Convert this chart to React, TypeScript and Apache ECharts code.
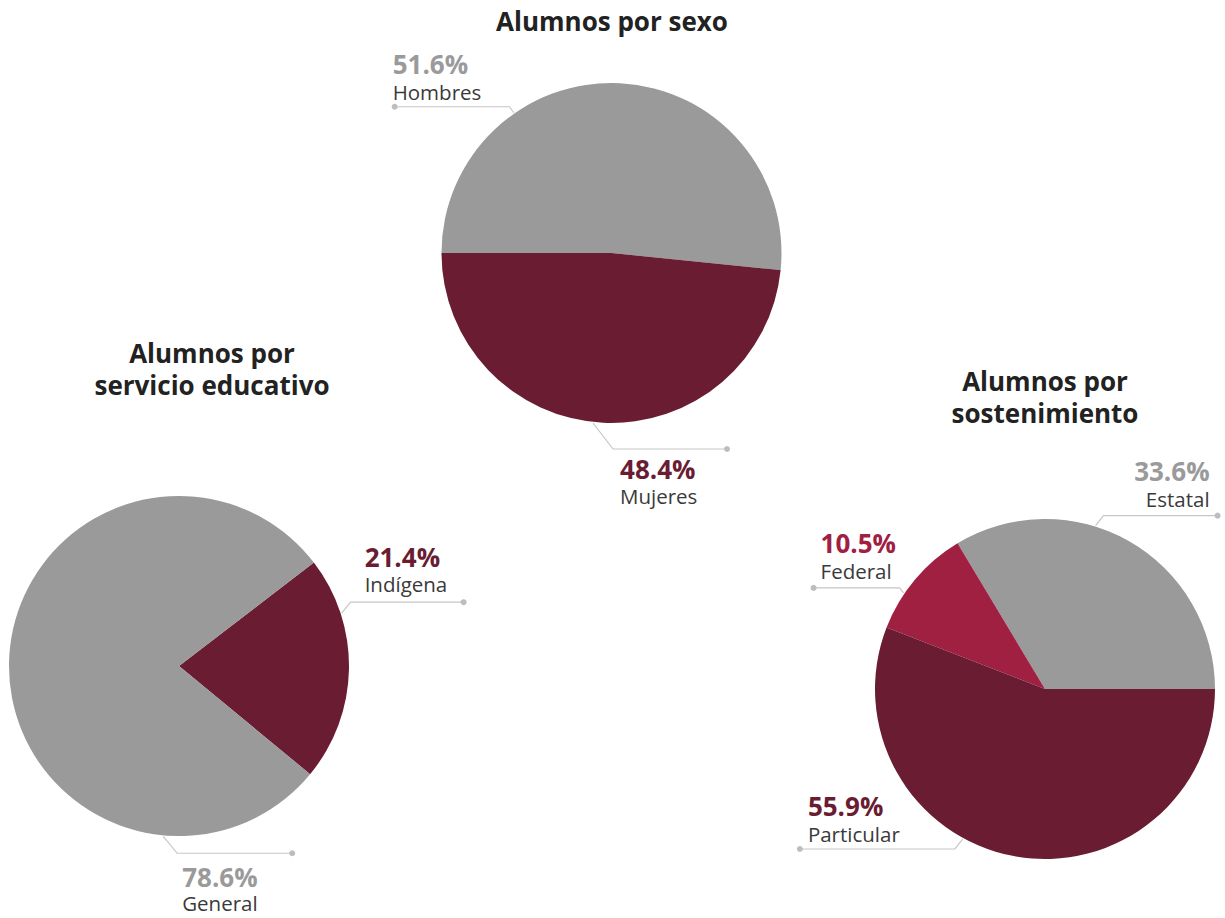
import React, { useEffect, useRef } from "react";
import * as echarts from "echarts";

// ---- Data ----
const sexoCategorias = ["Hombres", "Mujeres"];
const sexoValores = [51.6, 48.4];

const servicioCategorias = ["Indígena", "General"];
const servicioValores = [21.4, 78.6];

const sostenCategorias = ["Estatal", "Federal", "Particular"];
const sostenValores = [33.6, 10.5, 55.9];

const titulos = ["Alumnos por sexo", "Alumnos por\nservicio educativo", "Alumnos por\nsostenimiento"];

// ---- Styles / layout ----
const GRAY = "#9a9a9b";
const MAROON = "#691c32";
const RED = "#a02042";
const FONT = "'Open Sans', 'Noto Sans', sans-serif";
const R = 170;

const pies = [
  { cats: sexoCategorias, vals: sexoValores, colors: [GRAY, MAROON], center: [611.5, 253], startAngle: 180, clockwise: true, title: titulos[0], titlePos: [612, 21] },
  { cats: servicioCategorias, vals: servicioValores, colors: [MAROON, GRAY], center: [179, 666], startAngle: 37.5, clockwise: true, title: titulos[1], titlePos: [212, 369] },
  { cats: sostenCategorias, vals: sostenValores, colors: [GRAY, RED, MAROON], center: [1045, 689], startAngle: 0, clockwise: false, title: titulos[2], titlePos: [1045, 397] },
];

// per-label annotation layout: anchor angle on rim, elbow offset, horizontal run, text placement
const labelLayout: Record<string, any> = {
  Hombres: { angle: 124.9, elbow: [-4, -6], run: -115, textAlign: "left", textDx: "end", textOff: -2, above: true, gap: 0, pctColor: GRAY },
  Mujeres: { angle: -96.2, elbow: [20, 26], run: 114, textAlign: "left", textDx: "elbow", textOff: 7, above: false, gap: 1, pctColor: MAROON },
  "Indígena": { angle: 18, elbow: [9, -11], run: 113, textAlign: "left", textDx: "elbow", textOff: 14, above: true, gap: 3, pctColor: MAROON },
  General: { angle: -95.3, elbow: [14, 17], run: 115, textAlign: "left", textDx: "elbow", textOff: 5, above: false, gap: 4, pctColor: GRAY },
  Estatal: { angle: 72.8, elbow: [8, -10], run: 114, textAlign: "right", textDx: "end", textOff: -8, above: true, gap: 2, pctColor: GRAY },
  Federal: { angle: 145.8, elbow: [-4, -5], run: -86, textAlign: "left", textDx: "end", textOff: 7, above: true, gap: 2, pctColor: RED },
  Particular: { angle: -118.7, elbow: [-8, 10], run: -155, textAlign: "left", textDx: "end", textOff: 8, above: true, gap: 0, pctColor: MAROON },
};

export default function App() {
  const ref = useRef<HTMLDivElement>(null);
  useEffect(() => {
    document.body.style.margin = "0";
    if (!ref.current) return;
    const chart = echarts.init(ref.current, undefined, { renderer: "svg" });

    const series: any[] = pies.map((p) => ({
      type: "pie",
      radius: R,
      center: p.center,
      startAngle: p.startAngle,
      clockwise: p.clockwise,
      silent: true,
      label: { show: false },
      labelLine: { show: false },
      emphasis: { disabled: true },
      itemStyle: { borderWidth: 0 },
      data: p.cats.map((c, i) => ({ name: c, value: p.vals[i], itemStyle: { color: p.colors[i] } })),
    }));

    const graphic: any[] = [];
    pies.forEach((p) => {
      graphic.push({
        type: "text",
        x: p.titlePos[0],
        y: p.titlePos[1],
        silent: true,
        style: {
          text: p.title,
          fill: "#222222",
          fontFamily: FONT,
          fontSize: 26,
          fontWeight: "bold",
          align: "center",
          verticalAlign: "middle",
          lineHeight: 32,
        },
      });
      p.cats.forEach((c, i) => {
        const L = labelLayout[c];
        const a = (L.angle * Math.PI) / 180;
        const ax = p.center[0] + (R + 1) * Math.cos(a);
        const ay = p.center[1] - (R + 1) * Math.sin(a);
        const ex = ax + L.elbow[0];
        const ey = ay + L.elbow[1];
        const endX = ex + L.run;
        graphic.push({
          type: "polyline",
          silent: true,
          shape: { points: [[ax, ay], [ex, ey], [endX, ey]] },
          style: { stroke: "#c6c6c8", lineWidth: 1.2, fill: null },
        });
        graphic.push({
          type: "circle",
          silent: true,
          shape: { cx: endX, cy: ey, r: 3 },
          style: { fill: "#bdbdc0" },
        });
        const baseX = (L.textDx === "end" ? endX : ex) + L.textOff;
        graphic.push({
          type: "text",
          silent: true,
          x: baseX,
          y: L.above ? ey - 1 - L.gap : ey + 6 + L.gap,
          style: {
            text: "{p|" + p.vals[i].toFixed(1) + "%}\n{n|" + c + "}",
            fontFamily: FONT,
            align: L.textAlign,
            verticalAlign: L.above ? "bottom" : "top",
            rich: {
              p: { fontSize: 26, fontWeight: "bold", fill: L.pctColor, fontFamily: FONT, lineHeight: 27, align: L.textAlign },
              n: { fontSize: 20.5, fill: "#3a3a3a", fontFamily: FONT, lineHeight: L.above ? 28 : 26, align: L.textAlign },
            },
          },
        });
      });
    });

    chart.setOption({
      animation: false,
      backgroundColor: "#ffffff",
      series,
      graphic,
    });
    return () => chart.dispose();
  }, []);
  return <div ref={ref} style={{ width: 1225, height: 918 }} />;
}
